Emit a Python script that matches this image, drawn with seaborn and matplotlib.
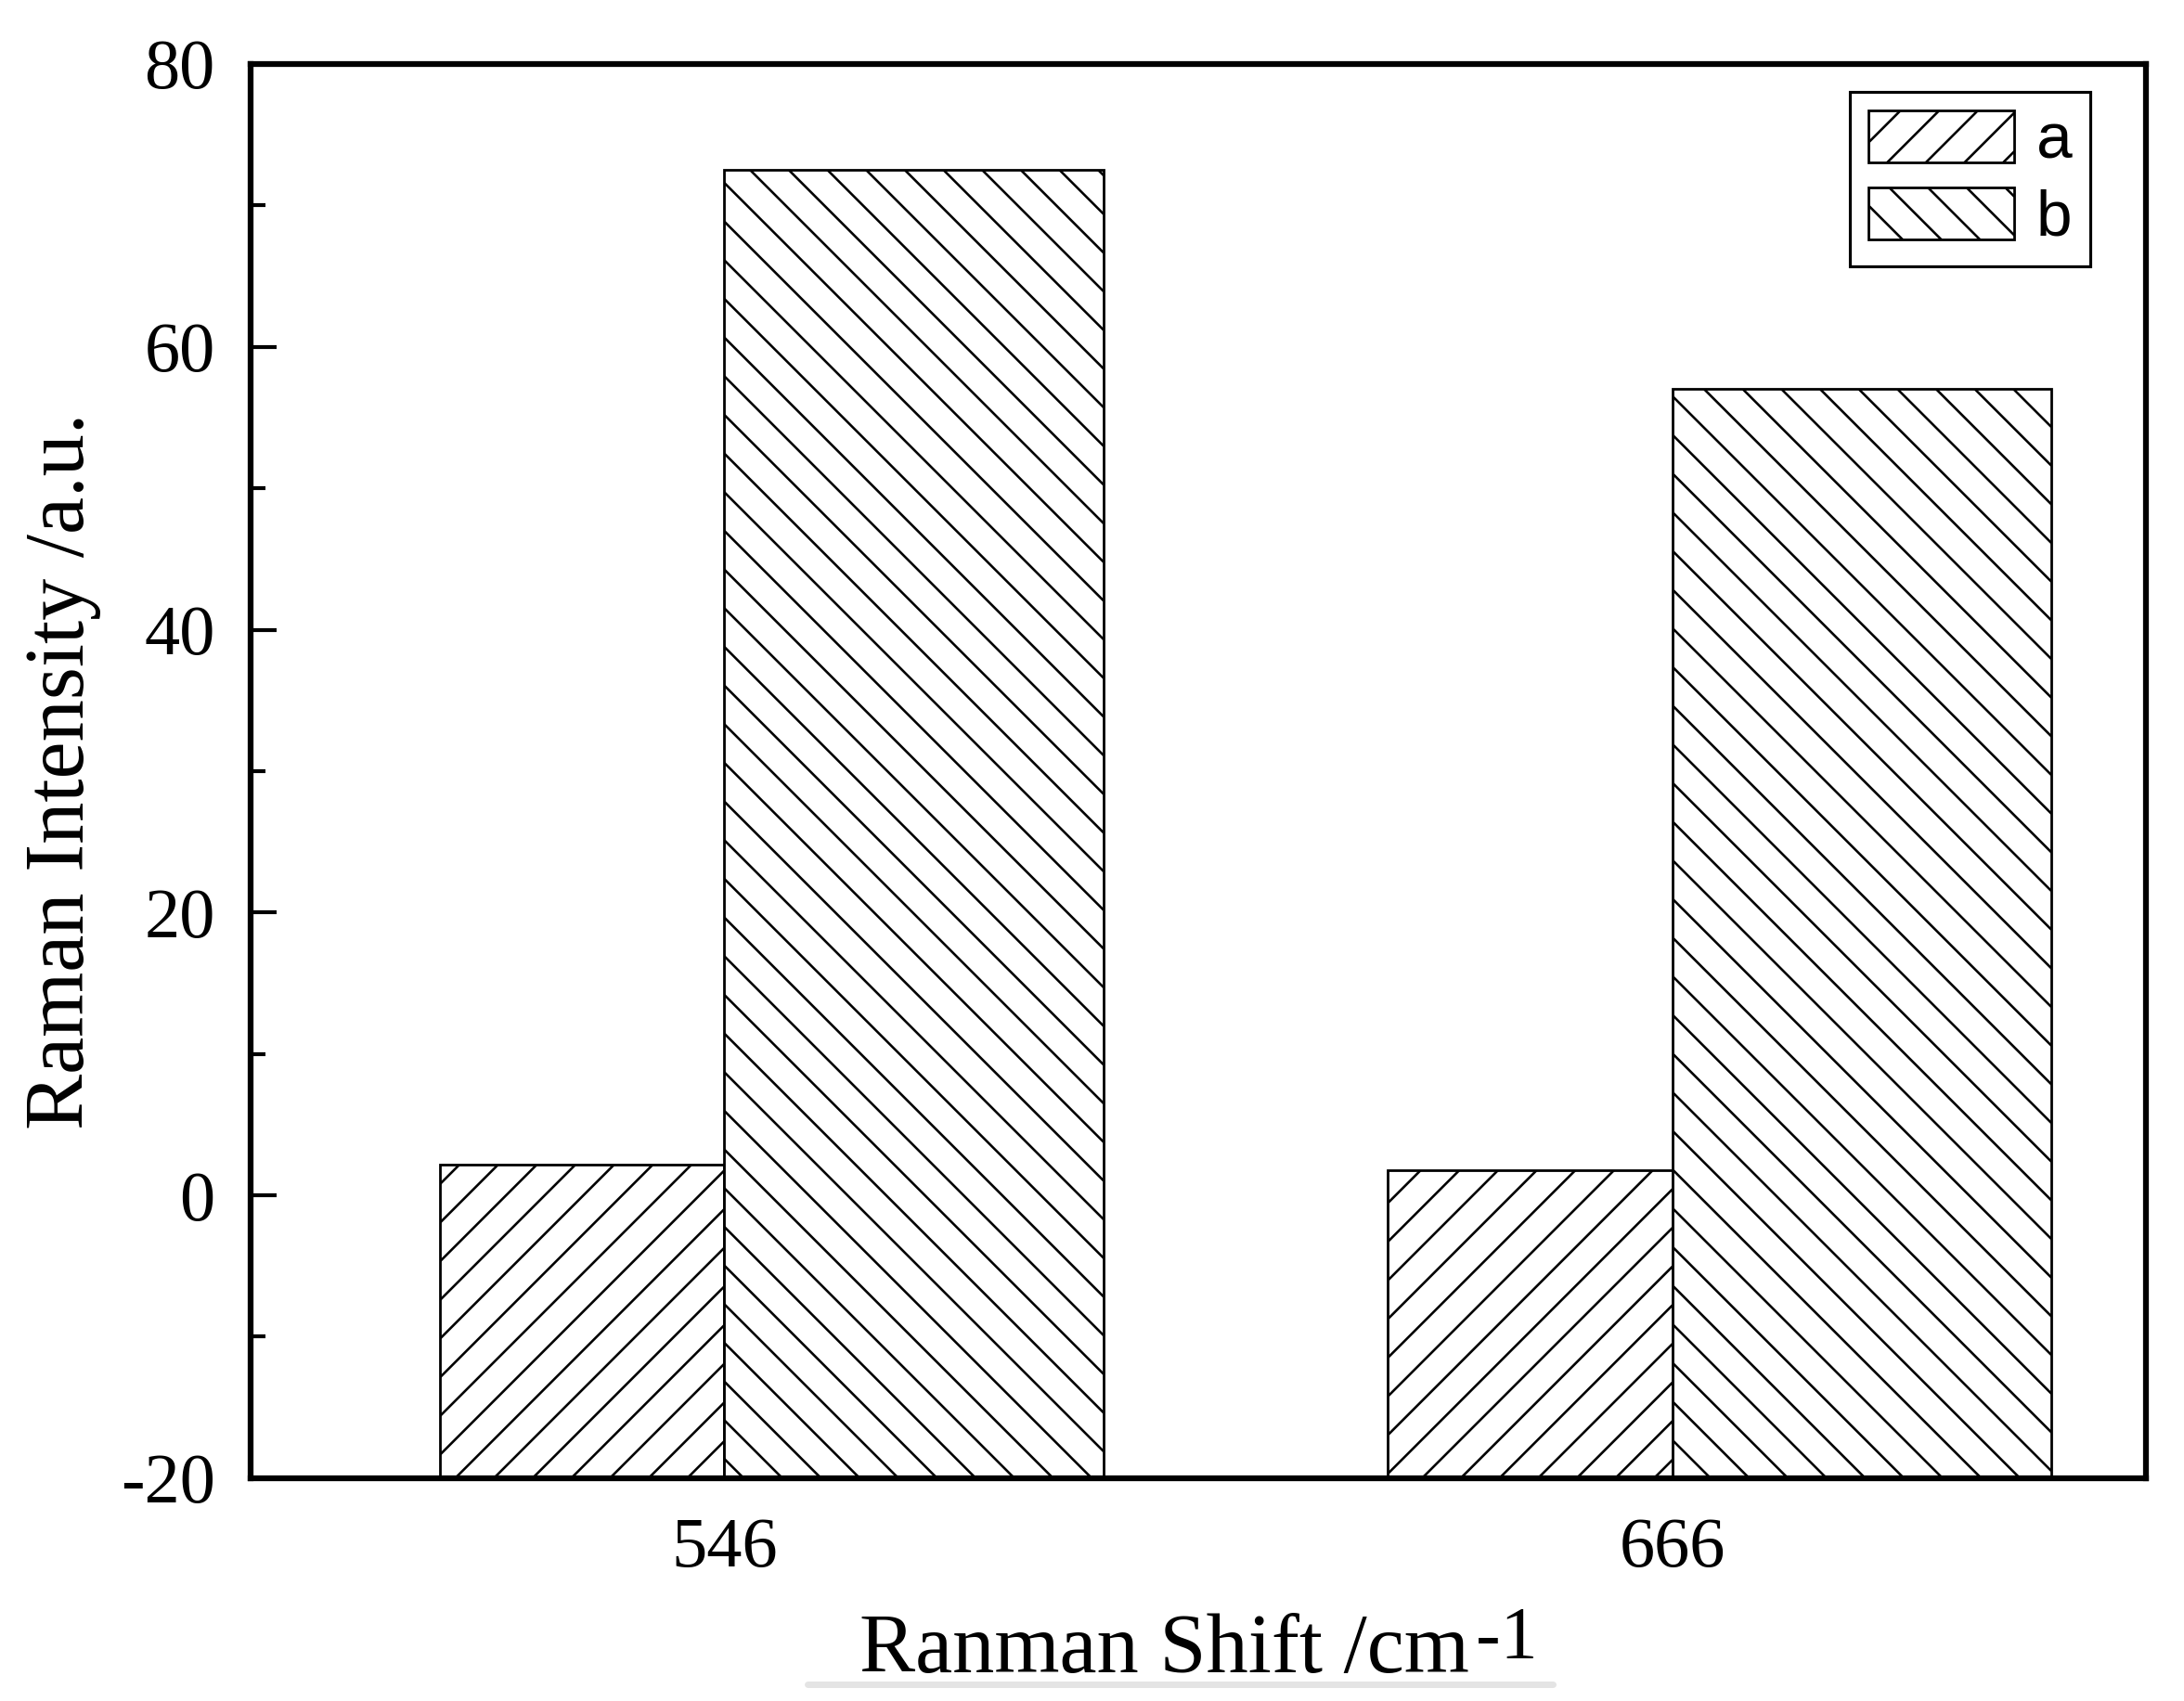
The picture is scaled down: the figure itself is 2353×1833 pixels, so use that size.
import pandas as pd
import seaborn as sns
import matplotlib.pyplot as plt
from matplotlib.ticker import MultipleLocator
from matplotlib.lines import Line2D

# Values
shifts = ["546", "666"]
samples = ["a", "b"]
intensity_a = [2.2, 1.8]
intensity_b = [72.5, 57.0]

df = pd.DataFrame({
    "shift": shifts * 2,
    "sample": [samples[0]] * 2 + [samples[1]] * 2,
    "intensity": intensity_a + intensity_b,
})

sns.set_style("ticks")
plt.rcParams["font.family"] = ["Liberation Serif", "DejaVu Serif"]
plt.rcParams["axes.unicode_minus"] = False
plt.rcParams["hatch.linewidth"] = 0.75
plt.rcParams["hatch.color"] = "black"
for key in ["axes.edgecolor", "xtick.color", "ytick.color",
            "text.color", "axes.labelcolor"]:
    plt.rcParams[key] = "black"

fig, ax = plt.subplots(figsize=(9.412, 7.332), dpi=250)
fig.subplots_adjust(left=0.1147, right=0.9826, top=0.9624, bottom=0.131)

sns.barplot(data=df, x="shift", y="intensity", hue="sample",
            palette=["white", "white"], edgecolor="black", linewidth=0.8,
            ax=ax, legend=False)

# Origin-style bars: grow from the bottom of the axis, a narrower than b
base = -20
widths = [0.30, 0.40]
offsets = [-0.30, 0.0]
hatches = ["//", "\\\\"]
centers = ax.get_xticks()
for cont, w, off, h in zip(ax.containers, widths, offsets, hatches):
    for c, bar in zip(centers, cont):
        bar.set_x(c + off)
        bar.set_width(w)
        bar.set_height(bar.get_height() - base)
        bar.set_y(base)
        bar.set_hatch(h)

ax.set_xlim(-0.5, 1.5)
ax.set_ylim(-20, 80)
ax.set_yticks(range(-20, 81, 20))
ax.yaxis.set_minor_locator(MultipleLocator(10))

for s in ax.spines.values():
    s.set_linewidth(1.8)
ax.tick_params(which="major", direction="in", length=8, width=1.2,
               labelsize=22, pad=11)
ax.tick_params(which="minor", direction="in", length=4.5, width=1.2)
ax.tick_params(axis="x", pad=12)

ax.set_xlabel("Ranman Shift /cm", fontsize=26, labelpad=10)
ax.xaxis.label.set_x(0.482)
ax.set_ylabel("Raman Intensity /a.u.", fontsize=26, labelpad=6)
# Origin puts the exponent at almost full size
ax.annotate("-1", xy=(1.0, 1.0), xycoords=ax.xaxis.label,
            xytext=(2, 2), textcoords="offset points",
            ha="left", va="top", fontsize=23)

leg = ax.legend(ax.containers, samples, loc="upper right",
                bbox_to_anchor=(0.9706, 0.980), borderaxespad=0,
                fancybox=False, edgecolor="black", framealpha=1,
                prop={"family": "Liberation Sans", "size": 20},
                handlelength=2.26, handleheight=0.87, labelspacing=0.24,
                borderpad=0.28, handletextpad=0.35)
leg.get_frame().set_linewidth(0.9)

# faint grey stroke under the x label in the original scan
fig.add_artist(Line2D([870 / 2353, 1673 / 2353], [1 - 1815 / 1833] * 2,
                      color="#e4e4e4", lw=2))

fig.savefig("out.png", dpi=250)
